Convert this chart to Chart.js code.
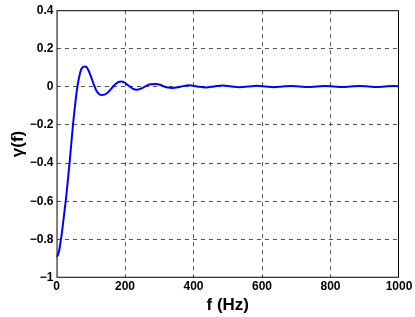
<!DOCTYPE html>
<html>
<head>
<meta charset="utf-8">
<script src="https://cdn.jsdelivr.net/npm/chart.js@4/dist/chart.umd.min.js"></script>
<style>
  html, body { margin: 0; padding: 0; background: #fff; }
  #wrap { width: 415px; height: 317px; position: relative; }
</style>
</head>
<body>
<div id="wrap"><canvas id="myChart"></canvas></div>
<script>
// frequency (Hz) and gamma(f)
const freq = [0, 4, 8, 12, 16, 20, 24, 28, 33, 38, 43, 48, 54, 60, 66, 72, 78, 85, 92, 100,
    108, 116, 124, 132, 140, 150, 160, 170, 180, 189, 198, 210, 222, 236, 250, 262, 275, 289,
    302, 314, 326, 338, 362, 387, 411, 436, 460, 485, 510, 535, 560, 585, 610, 635, 660, 685,
    710, 735, 760, 785, 810, 835, 860, 885, 910, 935, 960, 985, 1000];
const gamma = [-0.89, -0.88, -0.855, -0.81, -0.76, -0.70, -0.64, -0.58, -0.49, -0.40, -0.30,
    -0.20, -0.10, -0.01, 0.05, 0.09, 0.103, 0.105, 0.09, 0.055,
    0.015, -0.02, -0.038, -0.044, -0.042, -0.03, -0.01, 0.01, 0.024, 0.027, 0.022, 0.006,
    -0.01, -0.016, -0.008, 0.004, 0.012, 0.014,
    0.01, 0.001, -0.005, -0.007, 0.0, 0.007, 0.001, -0.004, 0.001, 0.006, 0.001, -0.003, 0.001,
    0.005, 0.001, -0.003, 0.001, 0.004,
    0.001, -0.002, 0.001, 0.004, 0.001, -0.002, 0.001, 0.003, 0.001, -0.002, 0.001, 0.003, 0.002];

const xTicks = [0, 200, 400, 600, 800, 1000];
const yTicks = [-1, -0.8, -0.6, -0.4, -0.2, 0, 0.2, 0.4];

const data = freq.map((f, i) => ({ x: f, y: gamma[i] }));

// box around the plot area, like the matlab axes
const boxPlugin = {
    id: 'box',
    afterDraw(chart) {
        const a = chart.chartArea;
        const c = chart.ctx;
        c.save();
        c.strokeStyle = '#000';
        c.lineWidth = 1;
        c.strokeRect(a.left + 0.5, a.top + 0.5, a.right - a.left - 1, a.bottom - a.top - 1);
        c.restore();
    }
};

const tickFont = { family: 'Liberation Sans, Arial, sans-serif', size: 12, weight: 'bold' };
const titleFont = { family: 'Liberation Sans, Arial, sans-serif', size: 17, weight: 'bold', lineHeight: 1.05 };
const fmt = v => (v < 0 ? '\u2212' : '') + String(Math.abs(Math.round(v * 10) / 10));

const ctx = document.getElementById('myChart').getContext('2d');
new Chart(ctx, {
    type: 'line',
    data: {
        datasets: [{
            data: data,
            borderColor: '#0000ff',
            borderWidth: 2,
            pointRadius: 0,
            fill: false,
            cubicInterpolationMode: 'monotone'
        }]
    },
    plugins: [boxPlugin],
    options: {
        responsive: true,
        maintainAspectRatio: false,
        animation: false,
        layout: { padding: { left: 9, right: 16, top: 3, bottom: 3 } },
        plugins: { legend: { display: false }, tooltip: { enabled: false } },
        scales: {
            x: {
                type: 'linear',
                min: 0,
                max: 1000,
                afterBuildTicks: s => { s.ticks = xTicks.map(v => ({ value: v })); },
                ticks: { font: tickFont, color: '#000', maxRotation: 0, padding: 2, callback: v => String(v) },
                grid: {
                    color: ctx => (ctx.tick && (ctx.tick.value === 0 || ctx.tick.value === 1000)) ? 'rgba(0,0,0,0)' : '#555',
                    drawTicks: false,
                    lineWidth: 1
                },
                border: { display: false, dash: [4, 4] },
                title: { display: true, text: 'f (Hz)', font: titleFont, color: '#000', padding: { top: 0, bottom: 0 } }
            },
            y: {
                type: 'linear',
                min: -1,
                max: 0.4,
                afterBuildTicks: s => { s.ticks = yTicks.map(v => ({ value: v })); },
                ticks: { font: tickFont, color: '#000', padding: 3, callback: v => fmt(v) },
                grid: {
                    color: ctx => (ctx.tick && (Math.abs(ctx.tick.value + 1) < 1e-9 || Math.abs(ctx.tick.value - 0.4) < 1e-9)) ? 'rgba(0,0,0,0)' : '#555',
                    drawTicks: false,
                    lineWidth: 1
                },
                border: { display: false, dash: [4, 4] },
                title: { display: true, text: 'γ(f)', font: titleFont, color: '#000', padding: { top: 0, bottom: 0 } }
            }
        }
    }
});
</script>
</body>
</html>
